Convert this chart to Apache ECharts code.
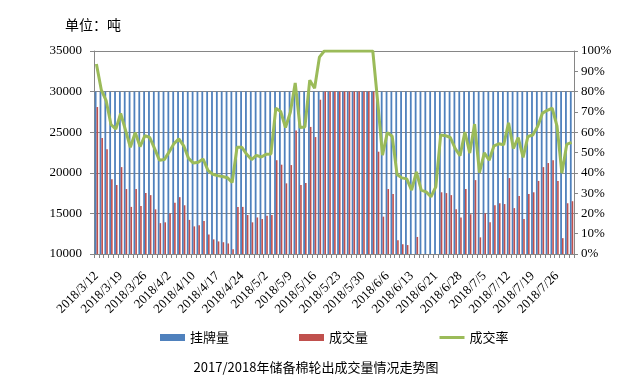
<!DOCTYPE html>
<html>
<head>
<meta charset="utf-8">
<script src="https://cdn.jsdelivr.net/npm/echarts@6/dist/echarts.min.js"></script>
<style>html,body{margin:0;padding:0;background:#fff;}#c{width:632px;height:390px;}</style>
</head>
<body>
<div id="c"></div>
<script>
const categories = [
'2018/3/12','2018/3/13','2018/3/14','2018/3/15','2018/3/16',
'2018/3/19','2018/3/20','2018/3/21','2018/3/22','2018/3/23',
'2018/3/26','2018/3/27','2018/3/28','2018/3/29','2018/3/30',
'2018/4/2','2018/4/3','2018/4/4','2018/4/8','2018/4/9',
'2018/4/10','2018/4/11','2018/4/12','2018/4/13','2018/4/16',
'2018/4/17','2018/4/18','2018/4/19','2018/4/20','2018/4/23',
'2018/4/24','2018/4/25','2018/4/26','2018/4/27','2018/4/28',
'2018/5/2','2018/5/3','2018/5/4','2018/5/7','2018/5/8',
'2018/5/9','2018/5/10','2018/5/11','2018/5/14','2018/5/15',
'2018/5/16','2018/5/17','2018/5/18','2018/5/21','2018/5/22',
'2018/5/23','2018/5/24','2018/5/25','2018/5/28','2018/5/29',
'2018/5/30','2018/5/31','2018/6/1','2018/6/4','2018/6/5',
'2018/6/6','2018/6/7','2018/6/8','2018/6/11','2018/6/12',
'2018/6/13','2018/6/14','2018/6/15','2018/6/19','2018/6/20',
'2018/6/21','2018/6/22','2018/6/25','2018/6/26','2018/6/27',
'2018/6/28','2018/6/29','2018/7/2','2018/7/3','2018/7/4',
'2018/7/5','2018/7/6','2018/7/9','2018/7/10','2018/7/11',
'2018/7/12','2018/7/13','2018/7/16','2018/7/17','2018/7/18',
'2018/7/19','2018/7/20','2018/7/23','2018/7/24','2018/7/25',
'2018/7/26','2018/7/27','2018/7/30','2018/7/31'
];
const listed = [
30000,30000,30000,30000,30000,30000,30000,30000,30000,30000,
30000,30000,30000,30000,30000,30000,30000,30000,30000,30000,
30000,30000,30000,30000,30000,30000,30000,30000,30000,30000,
30000,30000,30000,30000,30000,30000,30000,30000,30000,30000,
30000,30000,30000,30000,30000,30000,30000,30000,30000,30000,
30000,30000,30000,30000,30000,30000,30000,30000,30000,30000,
30000,30000,30000,30000,30000,30000,30000,30000,30000,30000,
30000,30000,30000,30000,30000,30000,30000,30000,30000,30000,
30000,30000,30000,30000,30000,30000,30000,30000,30000,30000,
30000,30000,30000,30000,30000,30000,30000,30000,30000
];
const traded = [
28100,24300,22900,19200,18500,20700,18000,15800,18000,15900,
17500,17250,15500,13800,13900,15000,16300,17000,16000,14200,
13400,13550,14050,12400,11800,11550,11450,11300,10600,15800,
15800,14800,13900,14500,14300,14700,14800,21550,21000,18700,
20950,25200,18500,18750,25650,24400,29000,30000,30000,30000,
30000,30000,30000,30000,30000,30000,30000,30000,22600,14600,
18000,17400,11700,11200,11100,9450,12100,9450,9200,8500,
9900,17600,17500,17250,15500,14500,18000,14900,19100,12050,
15000,13900,16000,16250,16150,19350,15650,17150,14300,17400,
17600,19000,20700,21200,21550,19000,11950,16250,16500
];
const rate = [
93.6,80.9,75.6,63.8,61.5,69.2,61.0,52.6,59.8,52.9,
58.3,57.4,51.9,46.2,46.5,50.3,54.4,56.7,53.3,47.1,
44.8,45.2,46.8,41.2,39.3,38.6,38.2,37.6,35.2,52.6,
52.6,49.1,46.5,48.6,47.8,49.1,49.3,71.8,70.2,62.3,
69.8,84.3,62.3,62.6,85.6,81.6,97.0,100,100,100,
100,100,100,100,100,100,100,100,75.3,48.7,
59.8,58.0,39.2,37.5,37.0,31.5,40.4,31.5,30.6,28.2,
33.1,58.6,58.3,57.4,51.9,48.4,60.1,49.7,64.0,40.1,
49.8,46.2,53.3,54.3,53.8,64.6,52.0,57.3,47.6,57.9,
58.6,62.8,69.4,70.8,71.8,63.0,39.8,54.0,55.0
];
const leftTicks = {min:10000, max:35000, step:5000};
const rightTicks = {min:0, max:100, step:10};

const chart = echarts.init(document.getElementById('c'), null, {renderer:'canvas'});
const serif = '"Liberation Serif", "DejaVu Serif", serif';
const cjk = '"Noto Sans CJK SC", sans-serif';
const gray = '#868686';
chart.setOption({
  animation:false,
  backgroundColor:'#fff',
  title:[
    {text:'单位：吨', left:60, top:13, textStyle:{fontFamily:cjk, fontSize:14, fontWeight:'normal', color:'#000'}},
    {text:'2017/2018年储备棉轮出成交量情况走势图', left:'center', top:356, textStyle:{fontFamily:cjk, fontSize:13, fontWeight:'normal', color:'#000'}}
  ],
  legend:{
    left:155, top:326, itemWidth:25, itemHeight:7, itemGap:70,
    textStyle:{fontFamily:cjk, fontSize:13, color:'#000'},
    data:[
      {name:'挂牌量', icon:'rect'},
      {name:'成交量', icon:'rect'},
      {name:'成交率', itemStyle:{opacity:0}, lineStyle:{color:'#9BBB59', width:3}}
    ]
  },
  grid:{left:94, right:58, top:51, bottom:136, containLabel:false},
  xAxis:{
    type:'category', data:categories, boundaryGap:true,
    axisLine:{lineStyle:{color:gray}},
    axisTick:{show:true, interval:0, length:4, lineStyle:{color:gray}},
    axisLabel:{interval:4, rotate:45, margin:20, fontFamily:serif, fontSize:13, color:'#000'}
  },
  yAxis:[
    {type:'value', min:leftTicks.min, max:leftTicks.max, interval:leftTicks.step,
     axisLine:{show:true, lineStyle:{color:gray}},
     axisTick:{show:true, length:4, lineStyle:{color:gray}},
     splitLine:{show:true, lineStyle:{color:gray, width:1}},
     axisLabel:{fontFamily:serif, fontSize:13, color:'#000', margin:12, formatter:function(v){return String(v);}}},
    {type:'value', min:rightTicks.min, max:rightTicks.max, interval:rightTicks.step,
     axisLine:{show:true, lineStyle:{color:gray}},
     axisTick:{show:true, length:4, lineStyle:{color:gray}},
     splitLine:{show:false},
     axisLabel:{fontFamily:serif, fontSize:13, color:'#000', margin:7, formatter:'{value}%'}}
  ],
  series:[
    {name:'挂牌量', type:'bar', data:listed, barWidth:1.8, barGap:'0%', itemStyle:{color:'#4F81BD'}},
    {name:'成交量', type:'bar', data:traded, barWidth:1.6, barGap:'0%', itemStyle:{color:'#C0504D'}},
    {name:'成交率', type:'line', yAxisIndex:1, data:rate, symbol:'none', showSymbol:false,
     lineStyle:{color:'#9BBB59', width:3}, itemStyle:{color:'#9BBB59'}, z:5}
  ]
});
</script>
</body>
</html>
